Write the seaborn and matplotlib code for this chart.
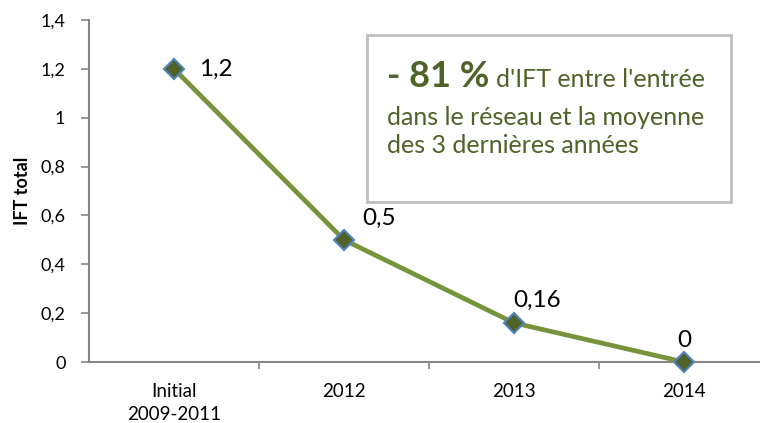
import matplotlib
matplotlib.use("Agg")
import matplotlib.pyplot as plt
import seaborn as sns
from matplotlib.patches import Rectangle

# data
categories = ["Initial\n2009-2011", "2012", "2013", "2014"]
ift_values = [1.2, 0.5, 0.16, 0.0]
value_labels = ["1,2", "0,5", "0,16", "0"]
y_ticks = [0, 0.2, 0.4, 0.6, 0.8, 1.0, 1.2, 1.4]
y_tick_labels = ["0", "0,2", "0,4", "0,6", "0,8", "1", "1,2", "1,4"]

sns.set_theme(style="white")
plt.rcParams["font.family"] = ["Lato", "DejaVu Sans"]

LINE = "#77933C"
MARK = "#4F6228"
EDGE = "#4F81BD"
GREY = "#868686"

fig = plt.figure(figsize=(7.6, 4.23), dpi=100)
ax = fig.add_axes([89 / 760, 1 - 362 / 423, 680 / 760, 342 / 423])

sns.lineplot(x=categories, y=ift_values, ax=ax, color=LINE, linewidth=3.4,
             marker="D", markersize=10, markerfacecolor=MARK,
             markeredgecolor=EDGE, markeredgewidth=1.5, sort=False,
             clip_on=False, zorder=3)

ax.set_xlim(-0.5, 3.5)
ax.set_ylim(0, 1.4)
ax.set_yticks(y_ticks)
ax.set_yticklabels(y_tick_labels)
ax.set_xticks(range(len(categories)))
ax.set_xticklabels(categories, linespacing=1.45)
ax.tick_params(axis="x", length=0, pad=15, labelsize=13.5, colors="black")
ax.tick_params(axis="y", length=6, width=1.2, color=GREY, pad=11,
               labelsize=13, labelcolor="black", direction="out", left=True)
# category separator ticks
ax.set_xticks([0.5, 1.5, 2.5], minor=True)
ax.tick_params(axis="x", which="minor", length=5, width=1.2, color=GREY,
               direction="out", bottom=True)

for side in ["top", "right"]:
    ax.spines[side].set_visible(False)
for side in ["left", "bottom"]:
    ax.spines[side].set_color(GREY)
    ax.spines[side].set_linewidth(1.5)
    ax.spines[side].set_zorder(1)

ax.set_ylabel("IFT total", fontsize=13, fontweight="bold", color="black", labelpad=7)
ax.set_xlabel("")

# data labels
offsets = [(25, 0, "left"), (18, 22, "left"), (-1, 23, "left"), (0, 22, "center")]
for i, (lab, (dx, dy, ha)) in enumerate(zip(value_labels, offsets)):
    ax.annotate(lab, (i, ift_values[i]), xytext=(dx, dy), textcoords="offset pixels",
                ha=ha, va="center", fontsize=17.5, color="black")

# annotation box
fig.patches.append(Rectangle((367 / 760, 1 - 202 / 423), 364 / 760, 167 / 423,
                             transform=fig.transFigure, facecolor="white",
                             edgecolor="#BFBFBF", linewidth=2, zorder=5))
t1 = fig.text(387 / 760, 1 - 87 / 423, "- 81 %", fontsize=26, fontweight="bold",
              color=MARK, va="baseline", ha="left", zorder=6)
fig.canvas.draw()
bb = t1.get_window_extent()
fig.text((bb.x1 + 7) / 760, 1 - 87 / 423, "d'IFT entre l'entrée", fontsize=18,
         color=MARK, va="baseline", ha="left", zorder=6)
fig.text(387 / 760, 1 - 125 / 423, "dans le réseau et la moyenne", fontsize=18,
         color=MARK, va="baseline", ha="left", zorder=6)
fig.text(387 / 760, 1 - 153 / 423, "des 3 dernières années", fontsize=18,
         color=MARK, va="baseline", ha="left", zorder=6)

fig.savefig("out.png", dpi=100)
